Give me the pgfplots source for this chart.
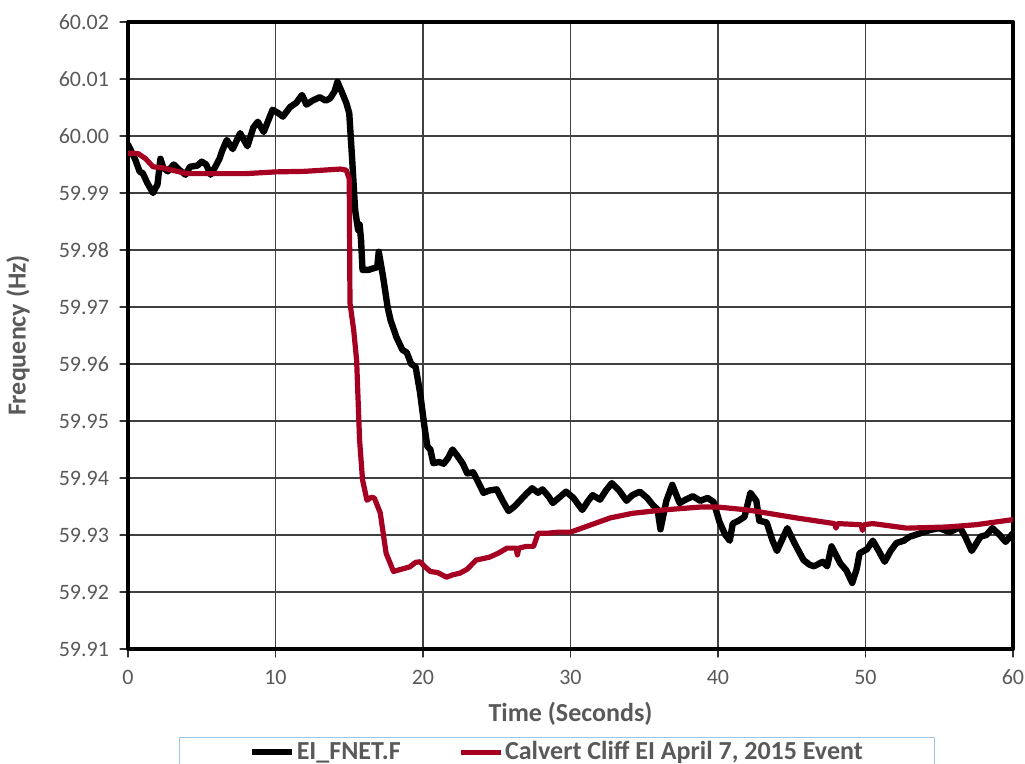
\documentclass[border=0pt]{standalone}
\usepackage{fontspec}
\setmainfont{Carlito}
\usepackage{pgfplots}
\pgfplotsset{compat=1.18}
\definecolor{exred}{RGB}{165,0,33}
\definecolor{labgray}{RGB}{89,89,89}
\definecolor{legblue}{RGB}{157,195,230}
\begin{document}
\begin{tikzpicture}
\path[use as bounding box] (-64pt,-57.5pt) rectangle (448.5pt,324.5pt);
\begin{axis}[
  scale only axis, width=442.5pt, height=313.5pt,
  xmin=0, xmax=60, ymin=59.91, ymax=60.02,
  enlargelimits=false,
  xtick={0,10,...,60},
  ytick={59.91,59.92,59.93,59.94,59.95,59.96,59.97,59.98,59.99,60.00,60.01,60.02},
  yticklabels={59.91,59.92,59.93,59.94,59.95,59.96,59.97,59.98,59.99,60.00,60.01,60.02},
  /pgf/number format/assume math mode=true,
  tick align=outside, major tick length=4pt,
  tick style={black!80, line width=0.6pt},
  xtick pos=bottom, ytick pos=left,
  grid=major,
  major grid style={black!75, line width=0.6pt},
  axis line style={black, line width=2pt},
  ticklabel style={font=\fontsize{11}{13}\selectfont, text=labgray},
  xticklabel style={yshift=-3pt},
  yticklabel style={xshift=-2pt},
  xlabel={Time (Seconds)},
  ylabel={Frequency (Hz)},
  label style={font=\fontsize{13}{15}\selectfont\bfseries, text=labgray},
  xlabel style={at={(axis description cs:0.5,-0.1037)}, anchor=center},
  ylabel style={at={(axis description cs:-0.1243,0.5)}, anchor=center},
  legend columns=2,
  legend style={at={(0.4847,-0.1404)}, anchor=north, draw=legblue, line width=0.6pt,
    inner xsep=35pt, inner ysep=0.5pt,
    font=\fontsize{13}{15}\selectfont\bfseries, text=labgray,
    nodes={inner xsep=1pt, inner ysep=1.5pt},
    /tikz/every even column/.append style={column sep=28pt}},
  legend image code/.code={\draw[#1] (0cm,0cm) -- (0.69cm,0cm);},
  line join=round, line cap=round,
]
\addplot[black, line width=3.2pt, mark=none] coordinates {
(0.0,59.9985) (0.1,59.9980) (0.5,59.9958) (0.8,59.9937) (1.0,59.9935) (1.3,59.9918)
(1.7,59.9900) (2.0,59.9915) (2.2,59.9960) (2.4,59.9944) (2.7,59.9938) (3.1,59.9950)
(3.5,59.9940) (3.9,59.9932) (4.2,59.9946) (4.7,59.9948) (5.0,59.9955) (5.3,59.9950)
(5.6,59.9932) (5.9,59.9945) (6.2,59.9960) (6.4,59.9975) (6.7,59.9993) (7.1,59.9977)
(7.6,60.0005) (8.1,59.9982) (8.5,60.0015) (8.8,60.0025) (9.2,60.0007) (9.8,60.0046)
(10.2,60.0040) (10.5,60.0034) (11.0,60.0051) (11.4,60.0058) (11.8,60.0072) (12.1,60.0055)
(12.5,60.0062) (13.0,60.0068) (13.4,60.0062) (13.7,60.0066) (14.0,60.0078) (14.2,60.0095)
(14.5,60.0077) (14.8,60.0058) (15.0,60.0040) (15.2,59.9958) (15.4,59.9870) (15.6,59.9835)
(15.7,59.9845) (15.8,59.9818) (15.9,59.9765) (16.3,59.9765) (16.9,59.9770) (17.0,59.9797)
(17.3,59.9752) (17.6,59.9700) (17.8,59.9677) (18.2,59.9647) (18.6,59.9625) (18.9,59.9620)
(19.2,59.9600) (19.5,59.9595) (19.8,59.9550) (20.1,59.9490) (20.3,59.9455) (20.5,59.9450)
(20.7,59.9426) (21.1,59.9428) (21.4,59.9425) (21.7,59.9435) (22.0,59.9450) (22.3,59.9440)
(22.7,59.9425) (23.0,59.9408) (23.4,59.9410) (23.7,59.9395) (24.1,59.9374) (24.5,59.9378)
(25.0,59.9380) (25.4,59.9360) (25.8,59.9342) (26.2,59.9350) (26.6,59.9361) (27.0,59.9372)
(27.4,59.9382) (27.8,59.9374) (28.1,59.9380) (28.5,59.9368) (28.8,59.9356) (29.2,59.9365)
(29.7,59.9376) (30.2,59.9365) (30.8,59.9344) (31.2,59.9360) (31.5,59.9370) (32.0,59.9362)
(32.4,59.9378) (32.8,59.9391) (33.3,59.9378) (33.8,59.9360) (34.2,59.9370) (34.7,59.9376)
(35.2,59.9365) (35.6,59.9352) (35.9,59.9345) (36.1,59.9310) (36.5,59.9360) (36.9,59.9388)
(37.4,59.9356) (37.8,59.9362) (38.3,59.9368) (38.8,59.9360) (39.3,59.9365) (39.7,59.9358)
(40.1,59.9323) (40.5,59.9300) (40.8,59.9290) (41.0,59.9320) (41.4,59.9325) (41.8,59.9332)
(42.2,59.9374) (42.6,59.9360) (42.8,59.9325) (43.3,59.9322) (43.7,59.9290) (44.0,59.9272)
(44.4,59.9295) (44.7,59.9312) (45.2,59.9285) (45.8,59.9256) (46.2,59.9248) (46.5,59.9245)
(47.1,59.9253) (47.4,59.9245) (47.7,59.9280) (48.0,59.9265) (48.3,59.9250) (48.7,59.9238)
(49.1,59.9216) (49.4,59.9240) (49.6,59.9268) (50.1,59.9275) (50.5,59.9290) (50.9,59.9272)
(51.3,59.9253) (51.7,59.9272) (52.1,59.9286) (52.6,59.9290) (53.0,59.9297) (53.6,59.9302)
(54.4,59.9309) (55.0,59.9312) (55.7,59.9305) (56.4,59.9314) (56.8,59.9295) (57.2,59.9272)
(57.8,59.9297) (58.2,59.9300) (58.6,59.9312) (59.1,59.9300) (59.5,59.9288) (60.0,59.9303)
};
\addlegendentry{EI\_FNET.F}
\addplot[exred, line width=2.6pt, mark=none] coordinates {
(0.0,59.9970) (0.7,59.9969) (1.2,59.9960) (1.7,59.9946) (2.4,59.9944) (3.0,59.9940)
(4.0,59.9934) (6.0,59.9934) (8.0,59.9934) (10.0,59.9937) (12.0,59.9938) (14.4,59.9942)
(14.8,59.9940) (15.0,59.9925) (15.05,59.9707) (15.3,59.9660) (15.5,59.9607) (15.7,59.9467)
(15.9,59.9397) (16.2,59.9361) (16.5,59.9366) (16.7,59.9365) (17.1,59.9339) (17.5,59.9268)
(18.0,59.9236) (18.4,59.9239) (19.1,59.9244) (19.5,59.9252) (19.8,59.9253) (20.1,59.9245)
(20.5,59.9236) (21.0,59.9234) (21.6,59.9226) (22.0,59.9230) (22.5,59.9233) (23.0,59.9240)
(23.6,59.9256) (24.5,59.9261) (25.1,59.9268) (25.7,59.9277) (26.3,59.9277) (26.4,59.9265)
(26.5,59.9277) (27.0,59.9280) (27.5,59.9280) (27.8,59.9303) (28.4,59.9303) (29.2,59.9305)
(30.0,59.9305) (31.3,59.9317) (32.7,59.9330) (34.2,59.9338) (36.3,59.9344) (38.8,59.9349)
(40.0,59.9349) (42.0,59.9344) (45.3,59.9330) (47.9,59.9320) (48.0,59.9312) (48.1,59.9320)
(49.7,59.9318) (49.8,59.9308) (49.9,59.9318) (50.5,59.9320) (52.8,59.9312) (55.5,59.9314)
(57.5,59.9318) (60.0,59.9327)
};
\addlegendentry{Calvert Cliff EI April 7, 2015 Event}
\end{axis}
\end{tikzpicture}
\end{document}
